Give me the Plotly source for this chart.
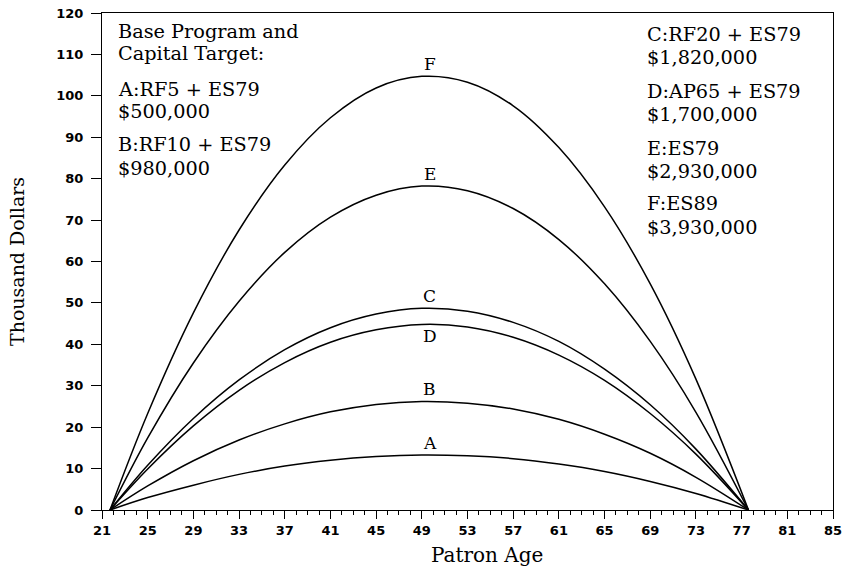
import plotly.graph_objects as go

ages = [21.7, 25, 29, 33, 37, 41, 45, 49, 53, 57, 61, 65, 69, 73, 77.6]
series_A = [0, 3.0, 6.0, 8.6, 10.6, 12.0, 12.9, 13.3, 13.1, 12.4, 11.1, 9.3, 6.9, 4.0, 0]
series_B = [0, 5.8, 11.9, 16.9, 20.8, 23.7, 25.5, 26.2, 25.8, 24.4, 21.9, 18.3, 13.7, 7.9, 0]
series_C = [0, 10.8, 22.1, 31.4, 38.7, 44.0, 47.3, 48.7, 48.0, 45.3, 40.7, 34.0, 25.4, 14.7, 0]
series_D = [0, 9.9, 20.3, 28.9, 35.6, 40.5, 43.5, 44.8, 44.2, 41.7, 37.4, 31.3, 23.3, 13.5, 0]
series_E = [0, 17.4, 35.5, 50.4, 62.2, 70.7, 76.0, 78.2, 77.1, 72.8, 65.3, 54.6, 40.7, 23.6, 0]
series_F = [0, 23.3, 47.6, 67.6, 83.3, 94.7, 101.9, 104.7, 103.3, 97.6, 87.5, 73.2, 54.6, 31.6, 0]

curve_names = ["A", "B", "C", "D", "E", "F"]
curve_values = [series_A, series_B, series_C, series_D, series_E, series_F]
label_x = 49.7
label_side = {"A": 1, "B": 1, "C": 1, "D": -1, "E": 1, "F": 1}

left_text = ["Base Program and", "Capital Target:", "A:RF5 + ES79", "$500,000",
             "B:RF10 + ES79", "$980,000"]
left_py = [31, 54, 89, 112, 145, 168]
right_text = ["C:RF20 + ES79", "$1,820,000", "D:AP65 + ES79", "$1,700,000",
              "E:ES79", "$2,930,000", "F:ES89", "$3,930,000"]
right_py = [34, 57, 91, 114, 148, 171, 204, 227]

x_ticks = list(range(21, 86, 4))
y_ticks = list(range(0, 121, 10))

W, H = 846, 575
PL, PT, pw, ph = 102, 13, 731, 497   # plot area on screen
L, T = PL, PT
R, B = W - L - pw, H - T - ph

fig = go.Figure()
for name, vals in zip(curve_names, curve_values):
    fig.add_trace(go.Scatter(x=ages, y=vals, mode="lines", name=name,
                             line=dict(color="black", width=1.5, shape="spline", smoothing=1.0),
                             showlegend=False, hoverinfo="skip"))

serif = "DejaVu Serif"
txt_size = 19.3
ann = []
for name, vals in zip(curve_names, curve_values):
    s = label_side[name]
    ann.append(dict(x=label_x, y=max(vals), xref="x", yref="y", text=name, showarrow=False,
                    yshift=12 * s, font=dict(family=serif, size=17, color="black")))
for t, py in zip(left_text, left_py):
    ann.append(dict(x=(117 - PL) / pw, y=(PT + ph - py) / ph, xref="paper", yref="paper",
                    text=t.replace("$", "&#36;"), showarrow=False, xanchor="left", yanchor="middle",
                    borderpad=0, font=dict(family=serif, size=txt_size, color="black")))
for t, py in zip(right_text, right_py):
    ann.append(dict(x=(646 - PL) / pw, y=(PT + ph - py) / ph, xref="paper", yref="paper",
                    text=t.replace("$", "&#36;"), showarrow=False, xanchor="left", yanchor="middle",
                    borderpad=0, font=dict(family=serif, size=txt_size, color="black")))
# x axis title
ann.append(dict(x=(487 - PL) / pw, y=(PT + ph - 555) / ph, xref="paper", yref="paper",
                text="Patron Age", showarrow=False, xanchor="center", yanchor="middle",
                font=dict(family=serif, size=20, color="black")))

fig.update_layout(
    width=W, height=H, margin=dict(l=L, r=R, t=T, b=B, autoexpand=False),
    paper_bgcolor="white", plot_bgcolor="white",
    annotations=ann,
    xaxis=dict(range=[21, 85], tickvals=x_ticks, ticks="outside", ticklen=8, tickwidth=1,
               tickcolor="black", showline=True, linecolor="black", linewidth=1, mirror=True,
               showgrid=False, zeroline=False, automargin=False,
               minor=dict(dtick=1, ticks="outside", ticklen=4, tickcolor="black", tickwidth=1, tick0=21),
               tickfont=dict(family="DejaVu Sans", size=13, color="black", weight="bold")),
    yaxis=dict(range=[0, 120], tickvals=y_ticks, ticks="outside", ticklen=10, tickwidth=1,
               tickcolor="black", showline=True, linecolor="black", linewidth=1, mirror=True,
               showgrid=False, zeroline=False, ticklabelstandoff=5, automargin=False,
               tickfont=dict(family="DejaVu Sans", size=13, color="black", weight="bold"),
               title=dict(text="Thousand Dollars", font=dict(family=serif, size=19, color="black"), standoff=26)),
)

fig.write_html("out.html", config={"displayModeBar": False},
               post_script="document.body.style.margin='0';")
